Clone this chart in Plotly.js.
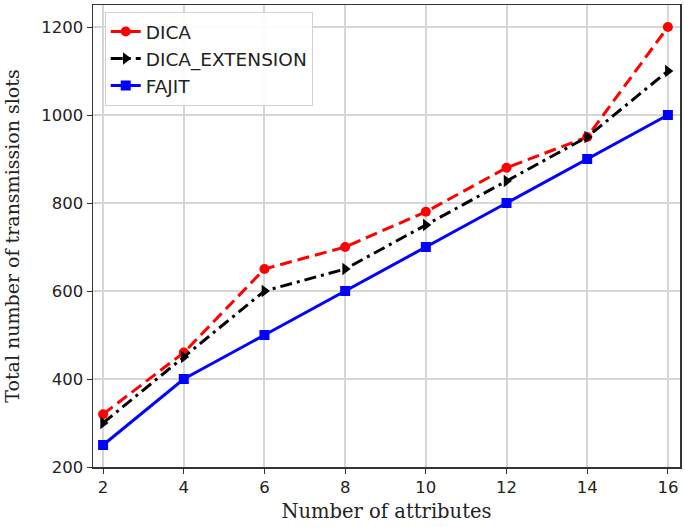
<!DOCTYPE html>
<html>
<head>
<meta charset="utf-8">
<script src="https://cdn.plot.ly/plotly-3.0.1.min.js"></script>
<style>
  html, body { margin: 0; padding: 0; background: #fff; }
  #chart { width: 685px; height: 527px; }
</style>
</head>
<body>
<div id="chart"></div>
<script>
// number of attributes
const attributes = [2, 4, 6, 8, 10, 12, 14, 16];

// total transmission slots for each scheme
const dica = [320, 460, 650, 700, 780, 880, 950, 1200];
const dicaExtension = [300, 450, 600, 650, 750, 850, 950, 1100];
const fajit = [250, 400, 500, 600, 700, 800, 900, 1000];

const xTicks = [2, 4, 6, 8, 10, 12, 14, 16];
const yTicks = [200, 400, 600, 800, 1000, 1200];

const traces = [
  {
    x: attributes, y: dica, name: 'DICA',
    mode: 'lines+markers',
    line: { color: '#ff0000', width: 3, dash: '12px,6px' },
    marker: { symbol: 'circle', size: 10, color: '#ff0000' }
  },
  {
    x: attributes, y: dicaExtension, name: 'DICA_EXTENSION',
    mode: 'lines+markers',
    line: { color: '#000000', width: 3, dash: '12px,5px,3px,5px' },
    marker: { symbol: 'triangle-right', size: 11, color: '#000000' }
  },
  {
    x: attributes, y: fajit, name: 'FAJIT',
    mode: 'lines+markers',
    line: { color: '#0000ff', width: 3 },
    marker: { symbol: 'square', size: 10, color: '#0000ff' }
  }
];

const layout = {
  width: 685,
  height: 527,
  margin: { l: 93, r: 5, t: 5, b: 60 },
  paper_bgcolor: '#ffffff',
  plot_bgcolor: '#ffffff',
  font: { family: 'DejaVu Sans', size: 16.5, color: '#222' },
  showlegend: true,
  legend: {
    x: 0.02, y: 0.985, xanchor: 'left', yanchor: 'top',
    bgcolor: 'rgba(255,255,255,0.9)',
    bordercolor: '#d0d0d0', borderwidth: 1,
    font: { family: 'DejaVu Sans', size: 18.5, color: '#222' },
    tracegroupgap: 0
  },
  xaxis: {
    range: [1.75, 16.3],
    tickvals: xTicks,
    ticktext: xTicks.map(String),
    ticks: 'outside', ticklen: 5, tickcolor: '#333',
    showgrid: true, gridcolor: '#d6d6d6', gridwidth: 2,
    showline: true, linecolor: '#333', linewidth: 1.5, mirror: true,
    zeroline: false,
    title: { text: 'Number of attributes', font: { family: 'DejaVu Serif', size: 19.5, color: '#222' }, standoff: 8 }
  },
  yaxis: {
    range: [200, 1250],
    tickvals: yTicks,
    ticktext: yTicks.map(String),
    ticks: 'outside', ticklen: 5, tickcolor: '#333',
    showgrid: true, gridcolor: '#d6d6d6', gridwidth: 2,
    showline: true, linecolor: '#333', linewidth: 1.5, mirror: true,
    zeroline: false,
    title: { text: 'Total number of transmission slots', font: { family: 'DejaVu Serif', size: 19, color: '#222' }, standoff: 16 }
  }
};

Plotly.newPlot('chart', traces, layout, { displayModeBar: false, staticPlot: true });
</script>
</body>
</html>
